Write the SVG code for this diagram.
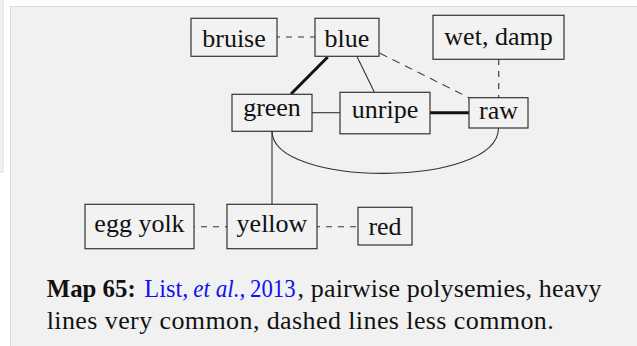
<svg xmlns="http://www.w3.org/2000/svg" width="637" height="346" viewBox="0 0 637 346">
<style>
.box{fill:#f2f2f2;stroke:#333;stroke-width:1.2}
.lbl{font-family:"Liberation Serif","Times New Roman",serif;font-size:26px;fill:#111;text-anchor:middle}
.thin{stroke:#333;stroke-width:1.1;fill:none}
.thick{stroke:#111;stroke-width:3;fill:none}
.dash{stroke:#333;stroke-width:1.1;fill:none;stroke-dasharray:6 6}
.cap{font-family:"Liberation Serif","Times New Roman",serif;font-size:26px;fill:#111}
.lnk{fill:#1010f0}
</style>
<rect x="-5" y="-5" width="8" height="177" fill="#f2f2f2" stroke="#dcdcdc" stroke-width="1"/>
<rect x="10.5" y="6.5" width="640" height="350" fill="#f1f1f1" stroke="#dcdcdc" stroke-width="1"/>
<g id="connectors">
<line class="dash" x1="277" y1="37" x2="315" y2="37" stroke-dashoffset="3"/>
<line class="thick" x1="327.7" y1="57" x2="291" y2="94"/>
<line class="thin" x1="356.7" y1="56" x2="374.3" y2="92"/>
<line class="dash" x1="380" y1="53.3" x2="469" y2="97.7" style="stroke-dasharray:8 6"/>
<line class="dash" x1="498.7" y1="59" x2="498.7" y2="98"/>
<line class="thin" x1="312" y1="112.7" x2="340" y2="112.7"/>
<line class="thick" x1="430" y1="112.7" x2="469" y2="112.7"/>
<path class="thin" d="M272,131 C272,188 498.5,188 498.5,128"/>
<line class="thin" x1="272" y1="131" x2="272" y2="204"/>
<line class="dash" x1="194" y1="226.7" x2="227" y2="226.7" stroke-dashoffset="-7"/>
<line class="dash" x1="317" y1="226.7" x2="358" y2="226.7" stroke-dashoffset="3"/>
</g>
<g id="bruise"><rect class="box" x="191" y="18.3" width="86" height="38"/><text class="lbl" x="234" y="46.7">bruise</text></g>
<g id="blue"><rect class="box" x="315" y="18.3" width="64" height="38"/><text class="lbl" x="347" y="46.7">blue</text></g>
<g id="wetdamp"><rect class="box" x="433" y="15.3" width="131" height="44"/><text class="lbl" x="498.5" y="45">wet, damp</text></g>
<g id="green"><rect class="box" x="232" y="94.3" width="80" height="37"/><text class="lbl" x="272" y="115.5">green</text></g>
<g id="unripe"><rect class="box" x="340" y="92.3" width="90" height="41.5"/><text class="lbl" x="385" y="118.3">unripe</text></g>
<g id="raw"><rect class="box" x="469" y="97.7" width="59" height="30.3"/><text class="lbl" x="498.5" y="119">raw</text></g>
<g id="eggyolk"><rect class="box" x="85" y="204.3" width="109" height="44.4"/><text class="lbl" x="139.5" y="231.7">egg yolk</text></g>
<g id="yellow"><rect class="box" x="227" y="204.3" width="90" height="44.4"/><text class="lbl" x="272" y="231.7">yellow</text></g>
<g id="red"><rect class="box" x="358" y="207.3" width="54" height="37.7"/><text class="lbl" x="385" y="235">red</text></g>
<g id="caption">
<text class="cap" x="46.7" y="297" font-weight="bold" textLength="89" lengthAdjust="spacingAndGlyphs">Map 65:</text>
<text class="cap lnk" x="144.3" y="297" textLength="44" lengthAdjust="spacingAndGlyphs">List,</text>
<text class="cap lnk" x="193.3" y="297" font-style="italic" textLength="52" lengthAdjust="spacingAndGlyphs">et al.,</text>
<text class="cap lnk" x="250" y="297" textLength="45.5" lengthAdjust="spacingAndGlyphs">2013</text>
<text class="cap" x="297.5" y="297" textLength="304" lengthAdjust="spacing">, pairwise polysemies, heavy</text>
<text class="cap" x="46.7" y="329" textLength="507" lengthAdjust="spacing">lines very common, dashed lines less common.</text>
</g>
</svg>
